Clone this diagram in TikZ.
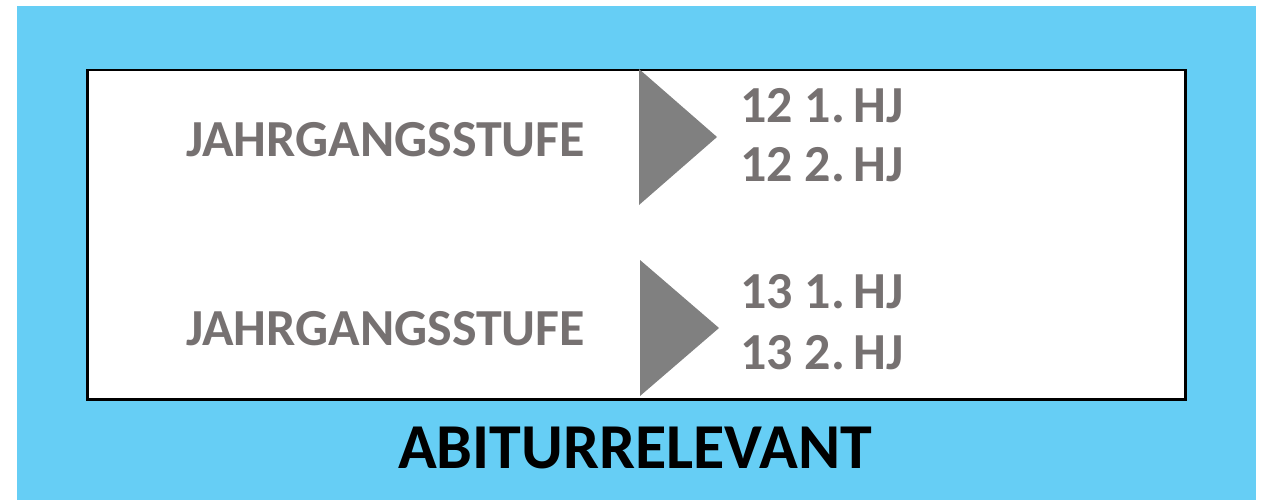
\documentclass[tikz,border=0pt]{standalone}
\usepackage{fontspec}
\setmainfont{Carlito}
\definecolor{bgblue}{HTML}{66CEF5}
\definecolor{txtgray}{HTML}{767171}
\definecolor{trigray}{HTML}{808080}
\begin{document}
\begin{tikzpicture}[x=1pt,y=-1pt,
  lbl/.style={inner sep=0pt, anchor=base west, text=txtgray, font=\fontsize{52}{52}\selectfont\bfseries},
  tri/.style={fill=trigray, draw=none}]
\useasboundingbox (0,0) rectangle (1268,500);
\fill[bgblue] (17,6) rectangle (1256,500);
\node[draw=black, line width=2.5pt, fill=white, minimum width=1098pt, minimum height=329pt, inner sep=0pt, anchor=north west] (box) at (86,69) {};
\fill[tri] (639,69) -- (717,137) -- (639,205) -- cycle;
\fill[tri] (640,260) -- (719,328) -- (640,396) -- cycle;
\node[lbl] (j1) at (186,157) {JAHRGANGSSTUFE};
\node[lbl] (j2) at (186,345) {JAHRGANGSSTUFE};
\node[lbl] (a1) at (740,123) {12 1.\,HJ};
\node[lbl] (a2) at (740,181) {12 2.\,HJ};
\node[lbl] (b1) at (740,308) {13 1.\,HJ};
\node[lbl] (b2) at (740,369) {13 2.\,HJ};
\node[inner sep=0pt, anchor=base, text=black, font=\fontsize{64}{64}\selectfont\bfseries] (abi) at (635,468) {ABITURRELEVANT};
\end{tikzpicture}
\end{document}
